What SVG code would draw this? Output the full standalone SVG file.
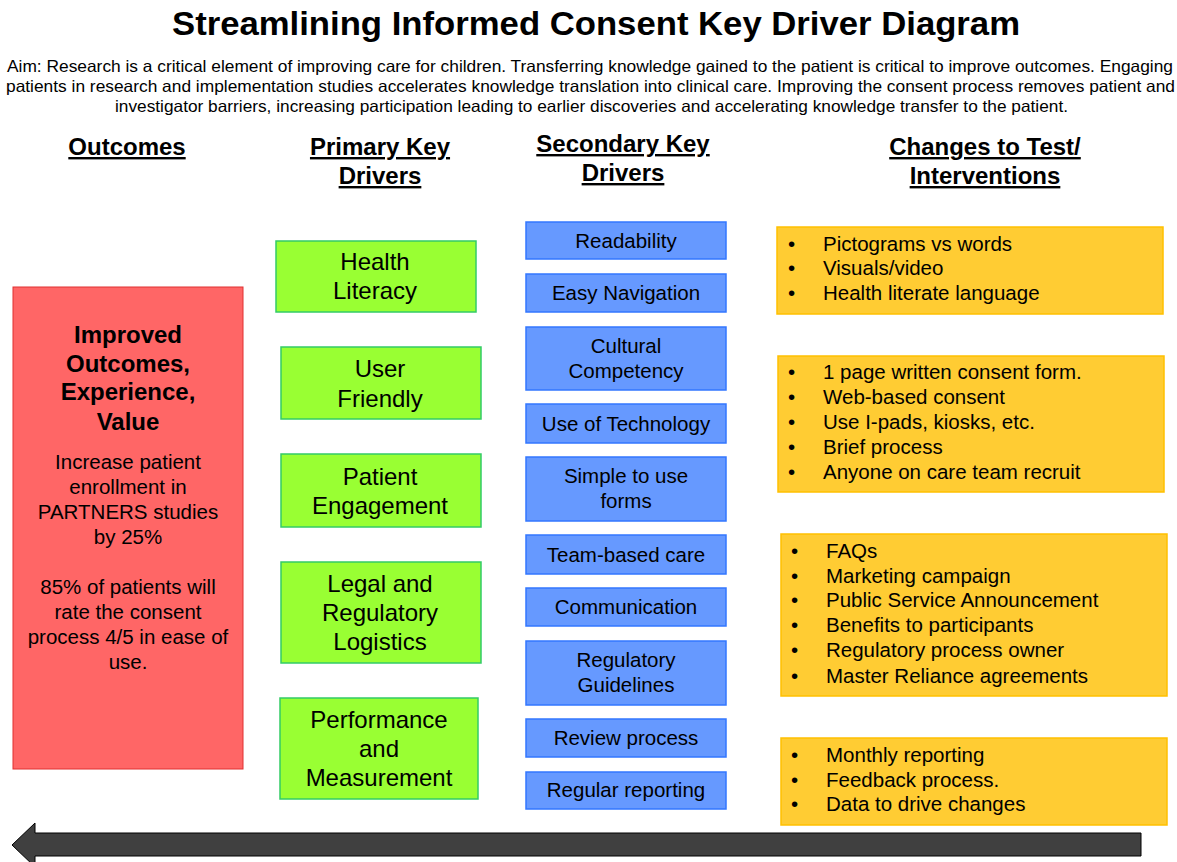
<svg xmlns="http://www.w3.org/2000/svg" width="1177" height="862" viewBox="0 0 1177 862">
<style>
text{font-family:"Liberation Sans",Arial,sans-serif;fill:#000}
.title{font-size:34px;font-weight:bold}
.aim{font-size:16.5px}
.hdr{font-size:24px;font-weight:bold;text-decoration:underline;text-anchor:middle}
.c{text-anchor:middle}
.red{fill:#FF6666;stroke:#E03030;stroke-width:1}
.grn{fill:#99FF33;stroke:#33CC66;stroke-width:1.5}
.blu{fill:#6699FF;stroke:#3377FF;stroke-width:1.5}
.org{fill:#FFCC33;stroke:#FFC000;stroke-width:1.5}
.tb{font-size:24px;font-weight:bold}
.tr{font-size:20.5px}
.tg{font-size:24px}
.tbl{font-size:20.5px}
.to{font-size:20.5px}
</style>
<rect width="1177" height="862" fill="#fff"/>
<text class="title c" x="596" y="35" textLength="848" lengthAdjust="spacingAndGlyphs">Streamlining Informed Consent Key Driver Diagram</text>
<text class="aim" x="7" y="72" textLength="1166" lengthAdjust="spacingAndGlyphs">Aim: Research is a critical element of improving care for children. Transferring knowledge gained to the patient is critical to improve outcomes.  Engaging</text>
<text class="aim" x="6" y="92" textLength="1169" lengthAdjust="spacingAndGlyphs">patients in research and implementation studies accelerates knowledge translation into clinical care.  Improving the consent process removes patient and</text>
<text class="aim" x="115" y="112" textLength="953" lengthAdjust="spacingAndGlyphs">investigator barriers, increasing participation leading to earlier discoveries and accelerating knowledge transfer to the patient.</text>

<text class="hdr" x="127" y="155">Outcomes</text>
<text class="hdr" x="380" y="155">Primary Key</text>
<text class="hdr" x="380" y="184">Drivers</text>
<text class="hdr" x="623" y="152">Secondary Key</text>
<text class="hdr" x="623" y="181">Drivers</text>
<text class="hdr" x="985" y="155">Changes to Test/</text>
<text class="hdr" x="985" y="184">Interventions</text>

<g id="outcome">
<rect class="red" x="13" y="287" width="230" height="482"/>
<text class="tb c" x="128" y="343">Improved</text>
<text class="tb c" x="128" y="372">Outcomes,</text>
<text class="tb c" x="128" y="400">Experience,</text>
<text class="tb c" x="128" y="430">Value</text>
<text class="tr c" x="128" y="469">Increase patient</text>
<text class="tr c" x="128" y="494">enrollment in</text>
<text class="tr c" x="128" y="519">PARTNERS studies</text>
<text class="tr c" x="128" y="544">by 25%</text>
<text class="tr c" x="128" y="594">85% of patients will</text>
<text class="tr c" x="128" y="619">rate the consent</text>
<text class="tr c" x="128" y="644">process 4/5 in ease of</text>
<text class="tr c" x="128" y="669">use.</text>
</g>

<g id="p1"><rect class="grn" x="276" y="241" width="200" height="71"/>
<text class="tg c" x="375" y="270">Health</text><text class="tg c" x="375" y="299">Literacy</text></g>
<g id="p2"><rect class="grn" x="281" y="347" width="200" height="72"/>
<text class="tg c" x="380" y="377">User</text><text class="tg c" x="380" y="407">Friendly</text></g>
<g id="p3"><rect class="grn" x="281" y="454" width="200" height="73"/>
<text class="tg c" x="380" y="485">Patient</text><text class="tg c" x="380" y="514">Engagement</text></g>
<g id="p4"><rect class="grn" x="281" y="562" width="200" height="101"/>
<text class="tg c" x="380" y="592">Legal and</text><text class="tg c" x="380" y="621">Regulatory</text><text class="tg c" x="380" y="650">Logistics</text></g>
<g id="p5"><rect class="grn" x="280" y="698" width="198" height="101"/>
<text class="tg c" x="379" y="728">Performance</text><text class="tg c" x="379" y="757">and</text><text class="tg c" x="379" y="786">Measurement</text></g>

<g id="s1"><rect class="blu" x="526" y="222" width="200" height="37"/><text class="tbl c" x="626" y="248">Readability</text></g>
<g id="s2"><rect class="blu" x="526" y="274" width="200" height="38"/><text class="tbl c" x="626" y="300">Easy Navigation</text></g>
<g id="s3"><rect class="blu" x="526" y="327" width="200" height="63"/><text class="tbl c" x="626" y="353">Cultural</text><text class="tbl c" x="626" y="378">Competency</text></g>
<g id="s4"><rect class="blu" x="526" y="404" width="200" height="39"/><text class="tbl c" x="626" y="431">Use of Technology</text></g>
<g id="s5"><rect class="blu" x="526" y="457" width="200" height="64"/><text class="tbl c" x="626" y="483">Simple to use</text><text class="tbl c" x="626" y="508">forms</text></g>
<g id="s6"><rect class="blu" x="526" y="535" width="200" height="39"/><text class="tbl c" x="626" y="562">Team-based care</text></g>
<g id="s7"><rect class="blu" x="526" y="588" width="200" height="38"/><text class="tbl c" x="626" y="614">Communication</text></g>
<g id="s8"><rect class="blu" x="526" y="641" width="200" height="64"/><text class="tbl c" x="626" y="667">Regulatory</text><text class="tbl c" x="626" y="692">Guidelines</text></g>
<g id="s9"><rect class="blu" x="526" y="719" width="200" height="38"/><text class="tbl c" x="626" y="745">Review process</text></g>
<g id="s10"><rect class="blu" x="526" y="772" width="200" height="37"/><text class="tbl c" x="626" y="797">Regular reporting</text></g>

<g id="c1"><rect class="org" x="777" y="227" width="386" height="87"/>
<text class="to" x="788" y="251">•</text><text class="to" x="823" y="251">Pictograms vs words</text>
<text class="to" x="788" y="275">•</text><text class="to" x="823" y="275">Visuals/video</text>
<text class="to" x="788" y="300">•</text><text class="to" x="823" y="300">Health literate language</text></g>
<g id="c2"><rect class="org" x="778" y="356" width="386" height="136"/>
<text class="to" x="788" y="379">•</text><text class="to" x="823" y="379">1 page written consent form.</text>
<text class="to" x="788" y="404">•</text><text class="to" x="823" y="404">Web-based consent</text>
<text class="to" x="788" y="429">•</text><text class="to" x="823" y="429">Use I-pads, kiosks, etc.</text>
<text class="to" x="788" y="454">•</text><text class="to" x="823" y="454">Brief process</text>
<text class="to" x="788" y="479">•</text><text class="to" x="823" y="479">Anyone on care team recruit</text></g>
<g id="c3"><rect class="org" x="781" y="534" width="386" height="162"/>
<text class="to" x="791" y="558">•</text><text class="to" x="826" y="558">FAQs</text>
<text class="to" x="791" y="583">•</text><text class="to" x="826" y="583">Marketing campaign</text>
<text class="to" x="791" y="607">•</text><text class="to" x="826" y="607">Public Service Announcement</text>
<text class="to" x="791" y="632">•</text><text class="to" x="826" y="632">Benefits to participants</text>
<text class="to" x="791" y="657">•</text><text class="to" x="826" y="657">Regulatory process owner</text>
<text class="to" x="791" y="683">•</text><text class="to" x="826" y="683">Master Reliance agreements</text></g>
<g id="c4"><rect class="org" x="781" y="738" width="386" height="87"/>
<text class="to" x="791" y="762">•</text><text class="to" x="826" y="762">Monthly reporting</text>
<text class="to" x="791" y="787">•</text><text class="to" x="826" y="787">Feedback process.</text>
<text class="to" x="791" y="811">•</text><text class="to" x="826" y="811">Data to drive changes</text></g>

<g id="connectors">
<path d="M1141,833 L35,833 L35,823 L12,845 L35,867 L35,856 L1141,856 Z" fill="#404040" stroke="#000" stroke-width="1"/>
</g>
</svg>
